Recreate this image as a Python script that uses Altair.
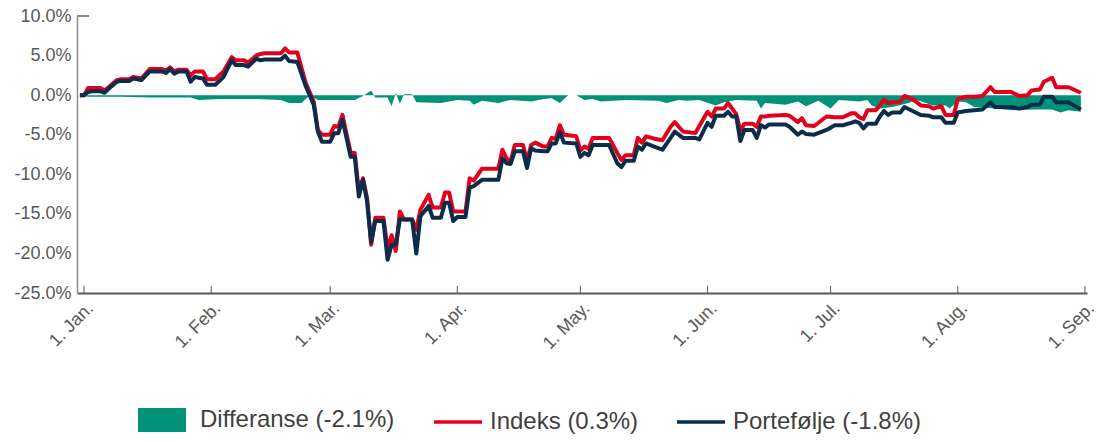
import altair as alt
import pandas as pd

FONT = "Liberation Sans"

# ---------------- data (% units) ----------------
dates = [
    "2019-12-31", "2020-01-01", "2020-01-02", "2020-01-03", "2020-01-05", "2020-01-06", "2020-01-07",
    "2020-01-09", "2020-01-10", "2020-01-12", "2020-01-13", "2020-01-15", "2020-01-17", "2020-01-20",
    "2020-01-21", "2020-01-22", "2020-01-23", "2020-01-24", "2020-01-26", "2020-01-27", "2020-01-28",
    "2020-01-30", "2020-01-31",
    "2020-02-02", "2020-02-04", "2020-02-06", "2020-02-07", "2020-02-09", "2020-02-10", "2020-02-12",
    "2020-02-13", "2020-02-14", "2020-02-18", "2020-02-19", "2020-02-20", "2020-02-22", "2020-02-24",
    "2020-02-25", "2020-02-26", "2020-02-27", "2020-02-28",
    "2020-03-01", "2020-03-02", "2020-03-03", "2020-03-04", "2020-03-06", "2020-03-07", "2020-03-08",
    "2020-03-09", "2020-03-10", "2020-03-11", "2020-03-12", "2020-03-14", "2020-03-15", "2020-03-16",
    "2020-03-17", "2020-03-18", "2020-03-19", "2020-03-21", "2020-03-22", "2020-03-23", "2020-03-25",
    "2020-03-26", "2020-03-28", "2020-03-29", "2020-03-30", "2020-03-31",
    "2020-04-01", "2020-04-03", "2020-04-04", "2020-04-05", "2020-04-07", "2020-04-11", "2020-04-12",
    "2020-04-13", "2020-04-14", "2020-04-15", "2020-04-17", "2020-04-18", "2020-04-19", "2020-04-20",
    "2020-04-22", "2020-04-23", "2020-04-24", "2020-04-25", "2020-04-26", "2020-04-27", "2020-04-30",
    "2020-05-01", "2020-05-02", "2020-05-03", "2020-05-04", "2020-05-08", "2020-05-10", "2020-05-11",
    "2020-05-12", "2020-05-14", "2020-05-15", "2020-05-16", "2020-05-17", "2020-05-19", "2020-05-21",
    "2020-05-23", "2020-05-24", "2020-05-26", "2020-05-29", "2020-05-30",
    "2020-06-01", "2020-06-02", "2020-06-03", "2020-06-05", "2020-06-06", "2020-06-07", "2020-06-08",
    "2020-06-09", "2020-06-10", "2020-06-12", "2020-06-13", "2020-06-14", "2020-06-15", "2020-06-16",
    "2020-06-20", "2020-06-21", "2020-06-23", "2020-06-24", "2020-06-25", "2020-06-27", "2020-06-30",
    "2020-07-02", "2020-07-04", "2020-07-06", "2020-07-07", "2020-07-08", "2020-07-09", "2020-07-10",
    "2020-07-12", "2020-07-13", "2020-07-14", "2020-07-15", "2020-07-16", "2020-07-18", "2020-07-19",
    "2020-07-21", "2020-07-23", "2020-07-25", "2020-07-26", "2020-07-28", "2020-07-29", "2020-07-31",
    "2020-08-01", "2020-08-03", "2020-08-05", "2020-08-07", "2020-08-09", "2020-08-10", "2020-08-14",
    "2020-08-16", "2020-08-18", "2020-08-19", "2020-08-21", "2020-08-22", "2020-08-24", "2020-08-25",
    "2020-08-28", "2020-08-31",
]

portefolje = [
    0.0, 0.0, 0.4, 0.5, 0.5, 0.3, 0.8, 1.7, 1.8, 1.8, 2.1, 1.9, 3.0, 3.0, 2.8, 3.3, 2.7, 3.0, 3.0, 1.7, 2.3, 2.1, 1.3,
    1.3, 2.3, 4.4, 3.8, 3.8, 3.6, 4.6, 4.4, 4.5, 4.5, 5.0, 4.3, 4.2, 1.2, 0.0, -1.2, -4.6, -5.9,
    -5.9, -4.8, -4.8, -3.1, -7.8, -7.8, -12.8, -10.7, -13.4, -18.6, -15.9, -15.9, -20.8, -18.9, -18.9, -15.7,
    -15.7, -15.7, -20.0, -15.3, -14.0, -15.5, -15.5, -13.6, -13.6, -15.9,
    -15.4, -15.4, -11.7, -11.5, -10.7, -10.7, -8.0, -8.6, -8.7, -7.1, -7.1, -9.2, -6.7, -7.0, -7.1, -7.1,
    -6.1, -6.1, -4.7, -6.0, -6.1,
    -7.8, -7.3, -7.6, -6.3, -6.3, -8.6, -9.1, -8.3, -8.3, -6.5, -6.9, -6.1, -6.5, -6.9, -5.4, -4.6, -5.4, -5.4, -5.6,
    -3.5, -4.0, -2.6, -2.6, -2.1, -2.7, -2.7, -5.8, -4.4, -4.4, -5.4, -3.8, -4.1, -3.7, -3.7, -4.0, -5.0, -4.6,
    -4.9, -5.0, -4.4,
    -3.8, -3.8, -3.5, -3.3, -3.5, -4.2, -3.6, -3.6, -2.7, -2.0, -2.5, -2.2, -2.2, -1.5, -2.0, -2.5, -2.6, -2.8,
    -2.8, -3.5, -3.5,
    -2.2, -2.0, -1.9, -1.8, -0.9, -1.5, -1.5, -1.7, -1.5, -1.2, -1.2, -0.2, -0.2, -0.9, -0.9, -1.8,
]

indeks = [
    0.0, 0.0, 0.9, 0.9, 0.9, 0.6, 1.0, 1.9, 2.0, 2.0, 2.3, 2.1, 3.3, 3.3, 3.1, 3.5, 3.0, 3.2, 3.2, 2.5, 3.0, 3.0, 2.0,
    2.0, 3.0, 4.8, 4.4, 4.4, 4.1, 5.0, 5.2, 5.3, 5.3, 5.9, 5.4, 5.4, 1.6, 0.4, -0.8, -4.4, -5.0,
    -5.0, -3.9, -4.0, -2.5, -7.3, -7.3, -12.2, -10.5, -13.0, -18.9, -15.5, -15.5, -19.4, -17.7, -19.7, -14.7,
    -15.7, -15.7, -17.0, -14.5, -12.6, -14.2, -14.2, -12.3, -12.3, -14.7,
    -14.7, -14.7, -10.5, -10.8, -9.3, -9.3, -6.9, -8.0, -8.4, -6.3, -6.3, -8.3, -6.3, -6.0, -6.5, -6.5,
    -5.4, -5.5, -3.8, -5.0, -5.2,
    -7.0, -6.5, -6.8, -5.4, -5.4, -7.3, -8.2, -7.6, -7.6, -5.4, -6.0, -5.2, -5.5, -5.7, -4.0, -3.4, -4.6, -4.8, -3.9,
    -2.1, -2.7, -1.7, -1.7, -1.0, -1.7, -2.4, -4.5, -3.6, -3.6, -4.0, -2.7, -2.7, -2.6, -2.5, -2.6, -3.4, -2.9,
    -3.8, -3.9, -2.7,
    -2.8, -2.8, -2.3, -2.3, -2.8, -3.0, -1.9, -1.9, -1.3, -0.6, -1.0, -0.9, -0.8, -0.1, -0.5, -1.3, -1.4, -1.7,
    -1.4, -2.5, -2.5,
    -0.5, -0.2, -0.2, -0.1, 1.0, 0.4, 0.4, -0.1, 0.0, 0.6, 0.7, 1.7, 2.2, 1.0, 1.0, 0.3,
]

diff_dates = [
    "2019-12-31", "2020-01-02", "2020-01-10", "2020-01-17", "2020-01-27", "2020-01-29", "2020-02-03",
    "2020-02-12", "2020-02-18", "2020-02-20", "2020-02-23", "2020-02-25", "2020-02-27", "2020-03-04",
    "2020-03-07", "2020-03-09", "2020-03-11", "2020-03-12", "2020-03-15", "2020-03-16", "2020-03-17",
    "2020-03-18", "2020-03-19", "2020-03-21", "2020-03-22", "2020-03-28", "2020-04-01", "2020-04-04",
    "2020-04-05", "2020-04-07", "2020-04-11", "2020-04-14", "2020-04-19", "2020-04-22", "2020-04-24",
    "2020-04-26", "2020-04-28", "2020-04-30", "2020-05-02", "2020-05-04", "2020-05-06", "2020-05-12",
    "2020-05-20", "2020-05-22", "2020-05-25", "2020-05-27", "2020-05-30", "2020-06-03", "2020-06-05",
    "2020-06-08", "2020-06-13", "2020-06-14", "2020-06-15", "2020-06-20", "2020-06-23", "2020-06-25",
    "2020-06-28", "2020-07-01", "2020-07-03", "2020-07-08", "2020-07-10", "2020-07-11", "2020-07-13",
    "2020-07-16", "2020-07-20", "2020-07-22", "2020-07-26", "2020-07-29", "2020-07-30", "2020-08-01",
    "2020-08-03", "2020-08-05", "2020-08-10", "2020-08-14", "2020-08-20", "2020-08-24", "2020-08-26",
    "2020-08-28", "2020-08-31",
]

differanse = [
    0.0, -0.2, -0.2, -0.3, -0.3, -0.6, -0.5,
    -0.5, -0.6, -1.0, -1.0, 0.0, -0.6, -0.6,
    -0.6, -0.1, 0.6, -0.3, -0.3, -1.4, 0.3,
    -1.1, 0.1, 0.1, -0.9, -1.0, -0.6, -0.7,
    -1.2, -0.7, -1.0, -0.6, -0.8, -0.5, -0.4,
    -1.0, 0.0, 0.0, -0.6, -0.5, -0.8, -0.6,
    -0.7, -1.0, -0.6, -0.7, -0.6, -1.3, -0.9,
    -0.6, -0.7, -1.7, -1.0, -1.2, -0.8, -1.4,
    -0.7, -1.7, -0.6, -0.8, -0.6, -1.3, -1.7,
    -1.5, -1.0, -0.6, -1.3, -1.3, -1.7, -0.8,
    -0.9, -1.5, -1.7, -1.9, -1.8, -1.8, -2.2,
    -1.9, -2.1,
]

series_lines = ["Indeks (0.3%)", "Portefølje (-1.8%)"]
series_area = ["Differanse (-2.1%)"]
month_starts = ["2020-%02d-01" % m for m in range(1, 10)]
y_ticks = [-25, -20, -15, -10, -5, 0, 5, 10]

# ---------------- tables ----------------
lines_df = pd.DataFrame({
    "dato": dates + dates,
    "serie": [series_lines[0]] * len(dates) + [series_lines[1]] * len(dates),
    "verdi": indeks + portefolje,
})
diff_df = pd.DataFrame({"dato": diff_dates, "serie": series_area[0], "verdi": differanse})
month_df = pd.DataFrame({"dato": month_starts})

# ---------------- scales / axes ----------------
x_scale = alt.Scale(
    type="utc",
    domain=[alt.DateTime(year=2019, month=12, date=30, hours=7, utc=True),
            alt.DateTime(year=2020, month=9, date=1, hours=12, utc=True)],
)
y_scale = alt.Scale(domain=[-25, 10], nice=False, zero=False)

x_axis = alt.Axis(
    values=[alt.DateTime(year=2020, month=m, date=1, utc=True) for m in range(1, 10)],
    labelExpr="'1. ' + utcFormat(datum.value, '%b') + '.'",
    labelAngle=315, labelFontSize=18, labelFont=FONT, labelOverlap=False, labelFlush=False,
    labelBound=False, labelColor="#595959", labelPadding=6, ticks=False, grid=False,
    domainColor="#595959", domainWidth=2, title=None,
)
y_axis = alt.Axis(
    values=y_ticks, labelExpr="datum.value + '.0%'", labelFontSize=18, labelFont=FONT,
    labelOverlap=False, labelFlush=False, labelBound=False,
    labelColor="#595959", labelPadding=6, ticks=False, grid=False,
    domainColor="#8c8c8c", domainWidth=1.5, title=None,
)

X = alt.X("dato:T", scale=x_scale, axis=x_axis)
Y = alt.Y("verdi:Q", scale=y_scale, axis=y_axis)

area = alt.Chart(diff_df).mark_area(opacity=1, interpolate="linear").encode(
    x=X, y=Y,
    fill=alt.Fill("serie:N",
                  scale=alt.Scale(domain=series_area, range=["#00937a"]),
                  legend=alt.Legend(title=None, orient="none", legendX=61, legendY=380,
                                    symbolType="M-1,-0.5H1V0.5H-1Z", symbolSize=2304,
                                    symbolStrokeWidth=0, symbolOpacity=1,
                                    labelFontSize=24, labelFont=FONT, labelColor="#404040",
                                    labelLimit=0, labelOffset=14, padding=0)),
)

lines = alt.Chart(lines_df).mark_line(strokeWidth=4, strokeJoin="round").encode(
    x=X, y=Y,
    stroke=alt.Stroke("serie:N",
                      scale=alt.Scale(domain=series_lines, range=["#e3001b", "#0b2d4b"]),
                      legend=alt.Legend(title=None, orient="none", direction="horizontal",
                                        legendX=355, legendY=380, symbolType="stroke",
                                        symbolSize=2304, symbolStrokeWidth=3.5,
                                        labelFontSize=24, labelFont=FONT, labelColor="#404040",
                                        labelLimit=0, labelOffset=6, columnPadding=31, padding=0)),
)

ticks = alt.Chart(month_df).mark_rule(color="#595959", strokeWidth=1).encode(
    x=X,
    y=alt.Y(datum=-25, scale=y_scale, axis=y_axis),
    y2=alt.datum(-24.1),
)

top_tick = alt.Chart(month_df).mark_rule(color="#8c8c8c", strokeWidth=1.5).encode(
    x=alt.value(0), x2=alt.value(12),
    y=alt.Y(datum=10, scale=y_scale, axis=y_axis),
)

chart = alt.layer(area, lines, ticks, top_tick).properties(
    width=1010, height=277,
    autosize=alt.AutoSizeParams(type="none"),
    padding={"left": 69, "top": 8, "right": 7, "bottom": 141},
    background="white",
).configure_view(stroke=None)

chart.save("out.html", embed_options={"renderer": "svg", "actions": False})
